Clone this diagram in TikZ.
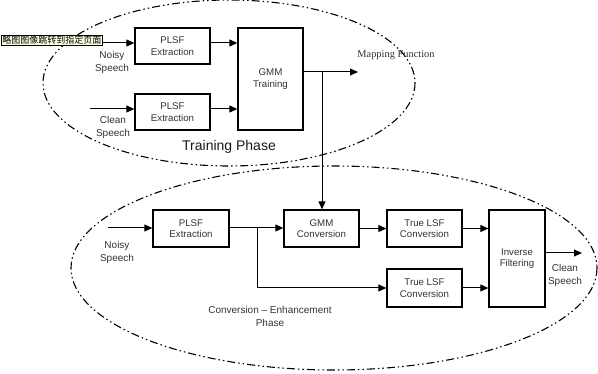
\documentclass[tikz,border=0pt]{standalone}
\usepackage{fontspec}
\setmainfont{Liberation Sans}
\newfontfamily\serifrm{Liberation Serif}
\newfontfamily\cjk{Noto Sans CJK SC}
\usetikzlibrary{arrows.meta}

\tikzset{
  blk/.style={draw, line width=1.3pt, align=center, text=black!80,
    font=\fontsize{9.7}{11.5}\selectfont, inner sep=0pt},
  lbl/.style={align=center, text=black!80, font=\fontsize{10}{13}\selectfont},
  flow/.style={line width=1pt, -{Triangle[length=8pt,width=7pt]}},
  phase/.style={line width=1.1pt, dash pattern=on 8pt off 3pt on 1.5pt off 3pt on 1.5pt off 3pt}
}

\begin{document}
\begin{tikzpicture}[x=1pt,y=-1pt]
\useasboundingbox (0,0) rectangle (598,374);

% phase outlines
\draw [phase] (229,83) ellipse [x radius=186, y radius=83];
\draw [phase] (334,268) ellipse [x radius=263, y radius=102];

% training phase
\node [blk, minimum width=75, minimum height=36] (pe1) at (172.5,46) {PLSF\\Extraction};
\node [blk, minimum width=75, minimum height=36] (pe2) at (172.5,112) {PLSF\\Extraction};
\node [blk, minimum width=65, minimum height=102] (gmmt) at (270.5,79) {GMM\\Training};

\coordinate (nin) at (103,43);
\coordinate (cin) at (90,109);
\coordinate (mapout) at (358,72);
\coordinate (split) at (322,72);

\draw [flow] (nin) -- (nin -| pe1.west);
\draw [flow] (cin) -- (cin -| pe2.west);
\draw [flow] ([yshift=3]pe1.east) -- ([yshift=3]pe1.east -| gmmt.west);
\draw [flow] ([yshift=3]pe2.east) -- ([yshift=3]pe2.east -| gmmt.west);
\draw [flow] (mapout -| gmmt.east) -- (mapout);

\node [lbl] (ns1) at (112,62) {Noisy\\Speech};
\node [lbl] (cs1) at (113,127) {Clean\\Speech};
\node [text=black!80, font=\serifrm\fontsize{10.4}{12}\selectfont] (mapf) at (396,55) {Mapping Function};
\node [text=black!90, font=\fontsize{14}{16}\selectfont] (tphase) at (229,147) {Training Phase};

% conversion - enhancement phase
\node [blk, minimum width=76, minimum height=37] (pe3) at (191,228.5) {PLSF\\Extraction};
\node [blk, minimum width=75, minimum height=37] (gmmc) at (321.5,228.5) {GMM\\Conversion};
\node [blk, minimum width=75, minimum height=37] (tl1) at (424.5,228.5) {True LSF\\Conversion};
\node [blk, minimum width=75, minimum height=38] (tl2) at (424.5,288) {True LSF\\Conversion};
\node [blk, minimum width=56, minimum height=97] (inv) at (517,258.5) {Inverse\\Filtering};

\coordinate (nin2) at (108,228);
\coordinate (branch) at (257,228);
\coordinate (cout) at (582,253);

\draw [flow] (split) -- (split |- gmmc.north);
\draw [flow] (nin2) -- (nin2 -| pe3.west);
\draw [flow] (pe3.east |- nin2) -- (gmmc.west |- nin2);
\draw [flow] (branch) -- (branch |- tl2.west) -- (tl2.west);
\draw [flow] (gmmc.east) -- (tl1.west);
\draw [flow] (tl1.east) -- (tl1.east -| inv.west);
\draw [flow] (tl2.east) -- (tl2.east -| inv.west);
\draw [flow] (cout -| inv.east) -- (cout);

\node [lbl] (ns2) at (117,252) {Noisy\\Speech};
\node [lbl] (cs2) at (565,275) {Clean\\Speech};
\node [lbl] (cphase) at (270,316) {Conversion -- Enhancement\\Phase};

% tooltip
\node [draw, line width=0.6pt, fill={rgb,255:red,255;green,255;blue,225}, inner sep=1pt,
  anchor=west, font=\cjk\fontsize{9}{10}\selectfont] (tip) at (1,40.5) {略图图像跳转到指定页面};
\end{tikzpicture}
\end{document}
